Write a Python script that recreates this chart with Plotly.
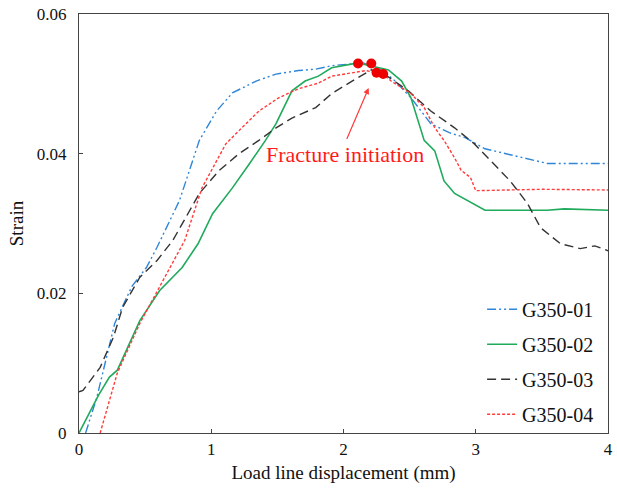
import plotly.graph_objects as go

# ---- data ----
g01_x = [0.05, 0.135, 0.27, 0.4, 0.51, 0.59, 0.76, 0.91, 1.04, 1.16, 1.34, 1.49, 1.66, 1.79, 1.91, 2.15, 2.3, 2.39, 2.51, 2.66, 2.8, 2.92, 3.07, 3.29, 3.54, 4.0]
g01_y = [0.0, 0.0051, 0.0157, 0.021, 0.0237, 0.0266, 0.0333, 0.0419, 0.0461, 0.0487, 0.0504, 0.0514, 0.0519, 0.0521, 0.0526, 0.053, 0.0518, 0.0504, 0.048, 0.0443, 0.043, 0.0423, 0.0407, 0.0397, 0.0386, 0.0386]

g02_x = [0.0, 0.08, 0.15, 0.23, 0.29, 0.46, 0.61, 0.78, 0.9, 1.01, 1.16, 1.29, 1.41, 1.49, 1.61, 1.71, 1.81, 1.91, 2.11, 2.34, 2.44, 2.51, 2.56, 2.61, 2.69, 2.76, 2.84, 2.94, 3.07, 3.54, 3.67, 4.0]
g02_y = [0.0, 0.0029, 0.0055, 0.008, 0.009, 0.0161, 0.0204, 0.0237, 0.0271, 0.0314, 0.0351, 0.0386, 0.0419, 0.0443, 0.049, 0.0504, 0.0511, 0.0523, 0.053, 0.052, 0.0504, 0.048, 0.0451, 0.0419, 0.0404, 0.0361, 0.0343, 0.0333, 0.0319, 0.0319, 0.0321, 0.0319]

g03_x = [0.0, 0.03, 0.16, 0.26, 0.33, 0.46, 0.59, 0.71, 0.91, 1.06, 1.21, 1.36, 1.49, 1.61, 1.79, 1.91, 2.11, 2.21, 2.3, 2.49, 2.66, 2.84, 2.99, 3.09, 3.26, 3.39, 3.49, 3.64, 3.79, 3.9, 4.0]
g03_y = [0.0059, 0.0061, 0.0094, 0.0137, 0.018, 0.0223, 0.0247, 0.0276, 0.0343, 0.0376, 0.04, 0.0419, 0.0437, 0.0451, 0.0466, 0.0486, 0.0509, 0.052, 0.0515, 0.049, 0.0461, 0.0437, 0.0414, 0.0394, 0.0361, 0.0329, 0.0294, 0.0271, 0.0264, 0.0268, 0.0261]

g04_x = [0.16, 0.29, 0.46, 0.61, 0.71, 0.8, 0.93, 1.01, 1.11, 1.21, 1.36, 1.51, 1.66, 1.81, 1.91, 2.17, 2.3, 2.36, 2.51, 2.61, 2.69, 2.76, 2.84, 2.89, 2.96, 3.0, 3.5, 4.0]
g04_y = [0.0, 0.0086, 0.0157, 0.0209, 0.0243, 0.0276, 0.0351, 0.038, 0.0414, 0.0433, 0.0461, 0.048, 0.0493, 0.0501, 0.0511, 0.0519, 0.0514, 0.0504, 0.0486, 0.0466, 0.0437, 0.0419, 0.0394, 0.0376, 0.0366, 0.0347, 0.0349, 0.0348]

frac_x = [2.11, 2.21, 2.25, 2.30]
frac_y = [0.0529, 0.0529, 0.0516, 0.0514]

series_names = ["G350-01", "G350-02", "G350-03", "G350-04"]
x_ticks = [0, 1, 2, 3, 4]
y_ticks = [0, 0.02, 0.04, 0.06]
y_tick_labels = ["0", "0.02", "0.04", "0.06"]

FONT = "Liberation Serif, Times New Roman, serif"

fig = go.Figure()
styles = [
    dict(color="#2f86d8", dash="9px,3px,2px,3px,2px,3px", width=1.4),
    dict(color="#1faa5c", dash="solid", width=1.6),
    dict(color="#333333", dash="9px,5px", width=1.4),
    dict(color="#ff3b3b", dash="3px,2px", width=1.4),
]
for i, (xs, ys) in enumerate([(g01_x, g01_y), (g02_x, g02_y), (g03_x, g03_y), (g04_x, g04_y)]):
    fig.add_trace(go.Scatter(x=xs, y=ys, mode="lines", name=series_names[i],
                             line=styles[i], legendgroup=series_names[i]))

fig.add_trace(go.Scatter(x=frac_x, y=frac_y, mode="markers", showlegend=False,
                         marker=dict(color="#ee0000", size=10)))

fig.add_annotation(x=2.19, y=0.0494, ax=2.02, ay=0.0419, xref="x", yref="y",
                   axref="x", ayref="y", showarrow=True, arrowhead=2, arrowsize=1,
                   arrowwidth=1.2, arrowcolor="#ff3b3b", text="")
fig.add_annotation(x=2.01, y=0.0399, xref="x", yref="y", showarrow=False,
                   text="Fracture initiation", font=dict(family=FONT, size=22, color="#ff1a1a"))

axis_common = dict(showgrid=False, zeroline=False, showline=True, linecolor="#444",
                   linewidth=1.2, mirror=True, ticks="inside", ticklen=4, tickcolor="#444",
                   automargin=False,
                   tickfont=dict(family=FONT, size=17, color="#111"))
fig.update_xaxes(range=[0, 4], tickvals=x_ticks,
                 title=dict(text="Load line displacement (mm)", font=dict(family=FONT, size=19, color="#111"), standoff=8),
                 **axis_common)
fig.update_yaxes(range=[0, 0.06], tickvals=y_ticks, ticktext=y_tick_labels, ticklabelstandoff=8,
                 title=dict(text="Strain", font=dict(family=FONT, size=19, color="#111"), standoff=8),
                 **axis_common)

fig.update_layout(
    width=617, height=490,
    margin=dict(l=79, r=9, t=14, b=57, autoexpand=False),
    paper_bgcolor="white", plot_bgcolor="white",
    legend=dict(x=0.762, y=0.342, xanchor="left", yanchor="top",
                font=dict(family=FONT, size=20, color="#111"),
                bgcolor="rgba(0,0,0,0)", tracegroupgap=6, itemwidth=30),
)

fig.write_html("out.html")
